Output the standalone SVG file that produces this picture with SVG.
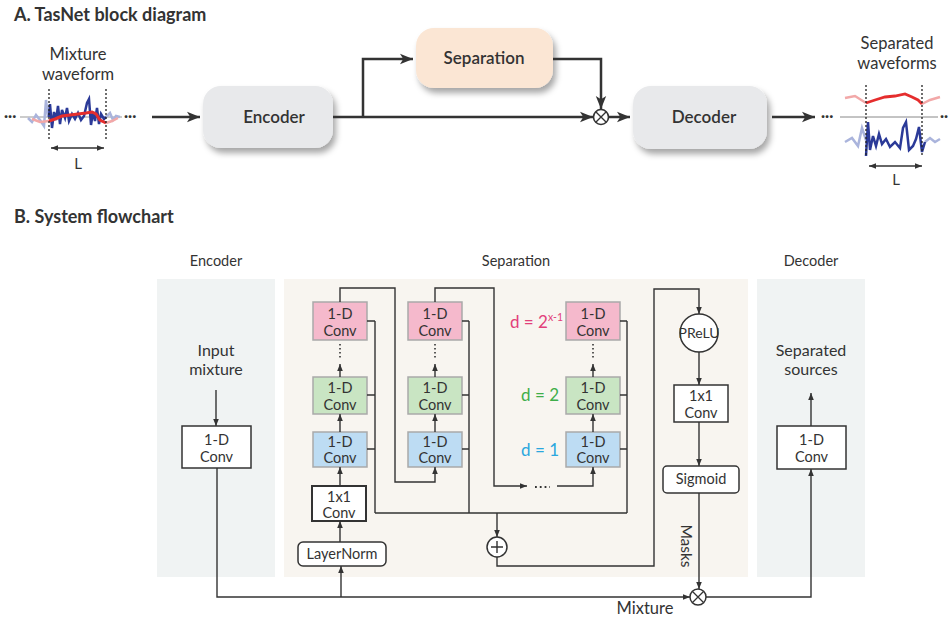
<svg xmlns="http://www.w3.org/2000/svg" width="949" height="620" viewBox="0 0 949 620">
<defs>
<style>
text{font-family:Lato,"Open Sans","Liberation Sans",sans-serif;fill:#333}
.title{font-size:18px;font-weight:bold;fill:#333}
.lab{font-size:16.5px;text-anchor:middle}
.hdr{font-size:14.5px;text-anchor:middle}
.blk{font-size:17px;font-weight:600;text-anchor:middle}
.bx{font-size:14.5px;text-anchor:middle}
.c{fill:none;stroke:#333;stroke-width:1.4}
.ct{fill:none;stroke:#333;stroke-width:2.5}
.pink{fill:#f5b9cc;stroke:#a9a9a9;stroke-width:1.5}
.green{fill:#c9e5c3;stroke:#a9a9a9;stroke-width:1.5}
.blue{fill:#bddcf3;stroke:#a9a9a9;stroke-width:1.5}
.wb{fill:#fff;stroke:#333;stroke-width:1.5}
.dot{fill:none;stroke:#333;stroke-width:1.6;stroke-dasharray:1.5 2.5}
.vd{fill:none;stroke:#222;stroke-width:1.3;stroke-dasharray:2 2}
</style>
<marker id="a" viewBox="0 0 10 10" refX="10" refY="5" markerWidth="7" markerHeight="7" markerUnits="userSpaceOnUse" orient="auto"><path d="M0,1 L10,5 L0,9 z" fill="#333"/></marker>
<marker id="b" viewBox="0 0 10 10" refX="10" refY="5" markerWidth="13" markerHeight="13" markerUnits="userSpaceOnUse" orient="auto"><path d="M0,1 L10,5 L0,9 L2.5,5 z" fill="#333"/></marker>
<marker id="s" viewBox="0 0 10 10" refX="10" refY="5" markerWidth="7" markerHeight="7" markerUnits="userSpaceOnUse" orient="auto-start-reverse"><path d="M0,1 L10,5 L0,9 z" fill="#333"/></marker>
<filter id="sh" x="-20%" y="-20%" width="150%" height="160%"><feDropShadow dx="3" dy="5" stdDeviation="3" flood-color="#000" flood-opacity="0.35"/></filter>
</defs>

<!-- Section A -->
<text class="title" x="14" y="21">A. TasNet block diagram</text>

<g id="mixture-waveform">
<text class="lab" x="78" y="60">Mixture</text>
<text class="lab" x="78" y="80">waveform</text>
<text x="4" y="121" style="font-size:15px;font-weight:bold">···</text>
<text x="124" y="121" style="font-size:15px;font-weight:bold">···</text>
<line x1="20" y1="117" x2="122" y2="117" stroke="#999" stroke-width="1"/>
<polyline fill="none" stroke="#aab4dc" stroke-width="2.5" points="28,118 32,122 36,115 40,120 44,126 46,100 48,117"/>
<polyline fill="none" stroke="#aab4dc" stroke-width="2.5" points="106,117 110,113 113,120 116,116 120,117"/>
<polyline fill="none" stroke="#f2a8a8" stroke-width="2.5" points="32,119 40,122 49,121"/>
<polyline fill="none" stroke="#f2a8a8" stroke-width="2.5" points="106,123 112,121 118,118"/>
<polyline fill="none" stroke="#2b3a98" stroke-width="2.5" points="49,117 50,104 52,128 54,112 56,120 58,106 60,124 62,110 65,118 67,108 69,121 72,114 75,119 78,113 81,120 84,116 87,103 89,99 91,125 93,112 95,121 97,108 99,124 101,114 104,119 106,117"/>
<polyline fill="none" stroke="#e52d2d" stroke-width="3" points="49,121 55,119 62,116 70,115 78,114 86,113 92,112 96,114 100,120 106,123"/>
<line class="vd" x1="49" y1="89" x2="49" y2="140"/>
<line class="vd" x1="106" y1="89" x2="106" y2="140"/>
<line x1="51" y1="148" x2="104" y2="148" stroke="#333" stroke-width="1.4" marker-start="url(#s)" marker-end="url(#s)"/>
<text class="lab" x="78" y="169" style="font-size:15px">L</text>
</g>

<g id="encoder">
<rect x="203" y="86" width="130" height="62" rx="18" fill="#e8e9eb" filter="url(#sh)"/>
<text class="blk" x="274" y="123">Encoder</text>
</g>
<g id="separation">
<rect x="416" y="28" width="137" height="60" rx="18" fill="#fbe6d4" filter="url(#sh)"/>
<text class="blk" x="484" y="64">Separation</text>
</g>
<g id="decoder">
<rect x="633" y="86" width="134" height="63" rx="18" fill="#e8e9eb" filter="url(#sh)"/>
<text class="blk" x="704" y="123">Decoder</text>
</g>
<g id="multiply-a">
<circle cx="601" cy="117" r="7.5" fill="#fff" stroke="#333" stroke-width="1.6"/>
<path d="M596,112 L606,122 M606,112 L596,122" stroke="#333" stroke-width="1.4"/>
</g>

<g id="separated-waveforms">
<text class="lab" x="897" y="49">Separated</text>
<text class="lab" x="897" y="69">waveforms</text>
<text x="821" y="121" style="font-size:15px;font-weight:bold">···</text>
<text x="940" y="121" style="font-size:15px;font-weight:bold">··</text>
<line x1="840" y1="117" x2="938" y2="117" stroke="#888" stroke-width="1"/>
<polyline fill="none" stroke="#f2a8a8" stroke-width="2.5" points="845,98 855,96 866,103"/>
<polyline fill="none" stroke="#f2a8a8" stroke-width="2.5" points="922,104 930,100 940,97"/>
<polyline fill="none" stroke="#e52d2d" stroke-width="2.8" points="866,103 875,100 885,97 895,96 905,94 912,97 918,100 922,104"/>
<polyline fill="none" stroke="#aab4dc" stroke-width="2.5" points="845,142 852,138 858,146 862,128 866,140"/>
<polyline fill="none" stroke="#aab4dc" stroke-width="2.5" points="925,142 930,138 935,142 940,139"/>
<polyline fill="none" stroke="#2b3a98" stroke-width="2.5" points="866,156 868,122 870,150 873,136 876,146 879,134 882,144 886,139 890,147 895,142 900,148 903,128 906,122 909,150 913,146 916,139 919,127 922,152 925,142"/>
<line class="vd" x1="866" y1="85" x2="866" y2="157"/>
<line class="vd" x1="922" y1="85" x2="922" y2="157"/>
<line x1="869" y1="166" x2="922" y2="166" stroke="#333" stroke-width="1.4" marker-start="url(#s)" marker-end="url(#s)"/>
<text class="lab" x="896" y="185" style="font-size:15px">L</text>
</g>

<g id="connectors-a">
<path class="ct" d="M152,117 H200" marker-end="url(#b)"/>
<path class="ct" d="M333,117 H593" marker-end="url(#b)"/>
<path class="ct" d="M363,117 V59 H413" marker-end="url(#b)"/>
<path class="ct" d="M553,59 H601 V109" marker-end="url(#b)"/>
<path class="ct" d="M609,117 H630" marker-end="url(#b)"/>
<path class="ct" d="M772,117 H815" marker-end="url(#b)"/>
</g>

<!-- Section B -->
<text class="title" x="14" y="223">B. System flowchart</text>
<text class="hdr" x="216" y="266">Encoder</text>
<text class="hdr" x="516" y="266">Separation</text>
<text class="hdr" x="811" y="266">Decoder</text>

<rect x="157" y="279" width="118" height="298" fill="#f0f3f3"/>
<rect x="284" y="279" width="464" height="298" fill="#f8f5f0"/>
<rect x="757" y="279" width="108" height="298" fill="#f0f3f3"/>

<g id="input-mixture">
<text class="lab" x="216" y="356" style="font-size:16px">Input</text>
<text class="lab" x="216" y="375" style="font-size:16px">mixture</text>
</g>
<g id="enc-conv"><rect class="wb" x="182" y="426" width="69" height="42"/><text class="bx" x="216.5" y="445">1-D</text><text class="bx" x="216.5" y="462">Conv</text></g>

<g id="s1-pink"><rect class="pink" x="313" y="302" width="54" height="38"/><text class="bx" x="340" y="319">1-D</text><text class="bx" x="340" y="336">Conv</text></g>
<g id="s1-green"><rect class="green" x="313" y="377" width="54" height="37"/><text class="bx" x="340" y="393">1-D</text><text class="bx" x="340" y="410">Conv</text></g>
<g id="s1-blue"><rect class="blue" x="313" y="432" width="54" height="35"/><text class="bx" x="340" y="447">1-D</text><text class="bx" x="340" y="463">Conv</text></g>
<g id="s1-1x1"><rect class="wb" x="312" y="486" width="54" height="35" style="stroke-width:2"/><text class="bx" x="339" y="502">1x1</text><text class="bx" x="339" y="518">Conv</text></g>
<g id="layernorm"><rect class="wb" x="298" y="542" width="88" height="24" rx="5"/><text class="bx" x="342" y="559">LayerNorm</text></g>

<g id="s2-pink"><rect class="pink" x="408" y="302" width="54" height="38"/><text class="bx" x="435" y="319">1-D</text><text class="bx" x="435" y="336">Conv</text></g>
<g id="s2-green"><rect class="green" x="408" y="377" width="54" height="37"/><text class="bx" x="435" y="393">1-D</text><text class="bx" x="435" y="410">Conv</text></g>
<g id="s2-blue"><rect class="blue" x="408" y="432" width="54" height="35"/><text class="bx" x="435" y="447">1-D</text><text class="bx" x="435" y="463">Conv</text></g>

<g id="s3-pink"><rect class="pink" x="566" y="302" width="54" height="38"/><text class="bx" x="593" y="319">1-D</text><text class="bx" x="593" y="336">Conv</text></g>
<g id="s3-green"><rect class="green" x="566" y="377" width="54" height="37"/><text class="bx" x="593" y="393">1-D</text><text class="bx" x="593" y="410">Conv</text></g>
<g id="s3-blue"><rect class="blue" x="566" y="432" width="54" height="35"/><text class="bx" x="593" y="447">1-D</text><text class="bx" x="593" y="463">Conv</text></g>

<g id="dilation-labels">
<text x="510" y="328" style="fill:#e2407a;font-size:17px">d = 2<tspan dy="-7" style="font-size:10.5px;fill:#e2407a">x-1</tspan></text>
<text x="559" y="401" style="fill:#3fae49;font-size:17px;text-anchor:end">d = 2</text>
<text x="559" y="456" style="fill:#2aa7de;font-size:17px;text-anchor:end">d = 1</text>
</g>

<g id="plus"><circle cx="497" cy="547" r="10" fill="#fff" stroke="#333" stroke-width="1.5"/><path d="M491,547 H503 M497,541 V553" stroke="#333" stroke-width="1.4"/></g>
<g id="prelu"><circle cx="699" cy="333" r="19" fill="#fff" stroke="#333" stroke-width="1.5"/><text class="bx" x="699" y="338" style="font-size:14px">PReLU</text></g>
<g id="sep-1x1"><rect class="wb" x="674" y="385" width="54" height="37"/><text class="bx" x="701" y="401">1x1</text><text class="bx" x="701" y="418">Conv</text></g>
<g id="sigmoid"><rect class="wb" x="663" y="466" width="76" height="27" rx="4"/><text class="bx" x="701" y="484">Sigmoid</text></g>
<g id="multiply-b"><circle cx="698" cy="597" r="8" fill="#fff" stroke="#333" stroke-width="1.5"/><path d="M692.5,591.5 L703.5,602.5 M703.5,591.5 L692.5,602.5" stroke="#333" stroke-width="1.3"/></g>
<g id="dec-conv"><rect class="wb" x="777" y="426" width="69" height="43"/><text class="bx" x="811.5" y="445">1-D</text><text class="bx" x="811.5" y="462">Conv</text></g>
<g id="separated-sources">
<text class="lab" x="811" y="356" style="font-size:16px">Separated</text>
<text class="lab" x="811" y="375" style="font-size:16px">sources</text>
</g>

<g id="connectors-b">
<path class="c" d="M216,390 V426" marker-end="url(#a)"/>
<path class="c" d="M217,468 V597 H690" marker-end="url(#a)"/>
<path class="c" d="M341,597 V566" marker-end="url(#a)"/>
<path class="c" d="M706,597 H811 V469" marker-end="url(#a)"/>
<path class="c" d="M811,426 V393" marker-end="url(#a)"/>

<path class="c" d="M340,542 V521" marker-end="url(#a)"/>
<path class="c" d="M340,486 V467" marker-end="url(#a)"/>
<path class="c" d="M340,432 V414" marker-end="url(#a)"/>
<path class="c" d="M340,377 V364" marker-end="url(#a)"/>
<path class="dot" d="M340,344 V360"/>
<path class="c" d="M367,321 H375 M367,395 H375 M367,449 H375 M375,321 V513"/>
<path class="c" d="M340,302 V288 H395 V482 H435 V467" marker-end="url(#a)"/>

<path class="c" d="M435,432 V414" marker-end="url(#a)"/>
<path class="c" d="M435,377 V364" marker-end="url(#a)"/>
<path class="dot" d="M435,344 V360"/>
<path class="c" d="M462,321 H469 M462,395 H469 M462,449 H469 M469,321 V513"/>
<path class="c" d="M435,302 V288 H494 V486 H527" marker-end="url(#a)"/>
<path class="dot" d="M535,487 H550" style="stroke-width:1.8;stroke-dasharray:1.8 3"/>
<path class="c" d="M557,486 H593 V467" marker-end="url(#a)"/>

<path class="c" d="M593,432 V414" marker-end="url(#a)"/>
<path class="c" d="M593,377 V364" marker-end="url(#a)"/>
<path class="dot" d="M593,344 V360"/>
<path class="c" d="M620,321 H627 M620,395 H627 M620,449 H627 M627,321 V513"/>

<path class="c" d="M375,513 H627"/>
<path class="c" d="M497,513 V537" marker-end="url(#a)"/>
<path class="c" d="M497,557 V566 H654 V289 H699 V314" marker-end="url(#a)"/>
<path class="c" d="M699,352 V385" marker-end="url(#a)"/>
<path class="c" d="M699,422 V466" marker-end="url(#a)"/>
<path class="c" d="M699,493 V589" marker-end="url(#a)"/>
</g>
<text class="lab" transform="translate(681,546) rotate(90)" style="font-size:15.5px">Masks</text>
<text class="lab" x="645" y="614">Mixture</text>
</svg>
